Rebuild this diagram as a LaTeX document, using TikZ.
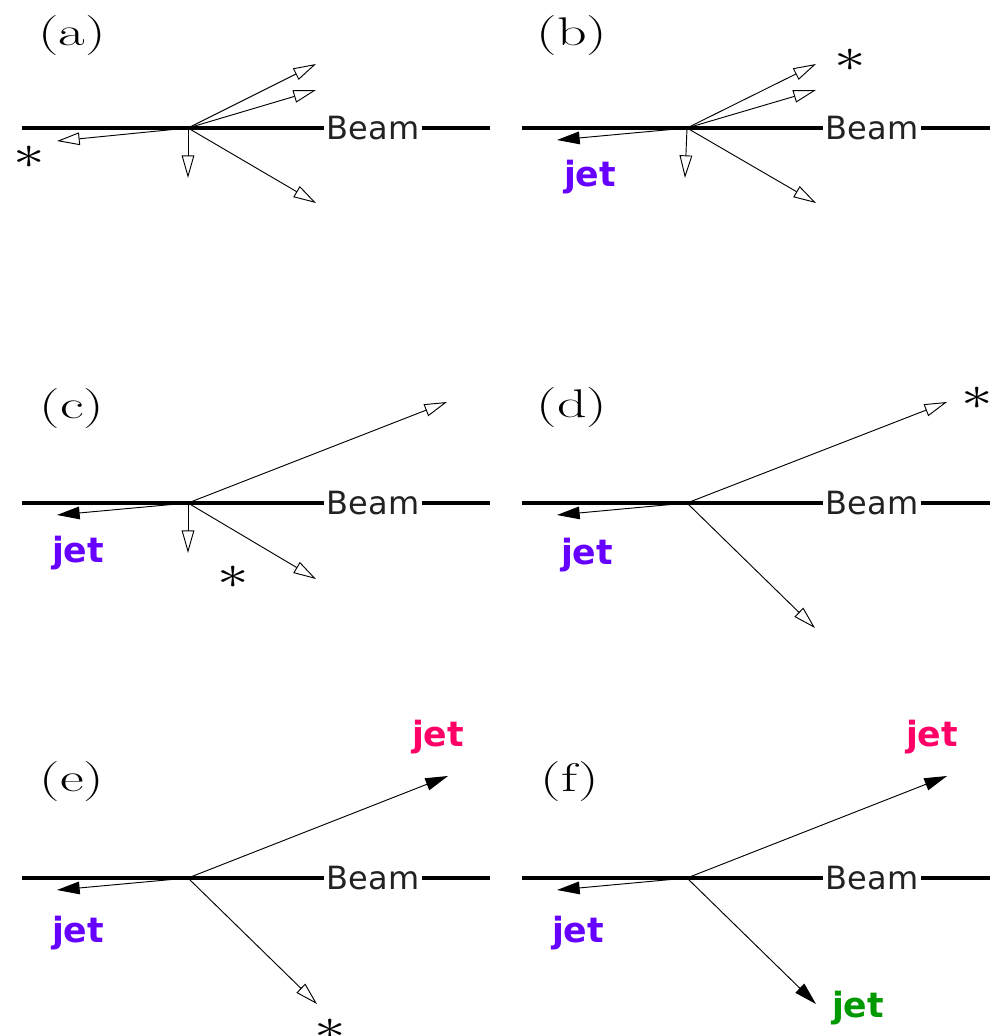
\documentclass[tikz,border=0pt]{standalone}
\usepackage{fontspec}
\newfontfamily\dejavu{DejaVu Sans}
\usetikzlibrary{arrows.meta}
\definecolor{jetpurple}{HTML}{6600FF}
\definecolor{jetred}{HTML}{FF0066}
\definecolor{jetgreen}{HTML}{009900}
\definecolor{beamtext}{HTML}{222222}
\tikzset{
  beamline/.style={line width=2.5pt,black},
  openarr/.style={line width=0.7pt,-{Triangle[open,length=17pt,width=9.5pt,line width=0.7pt]}},
  fullarr/.style={line width=0.7pt,-{Triangle[length=17pt,width=9.5pt]}},
  beamlabel/.style={font={\dejavu\fontsize{24}{28}\selectfont},text=beamtext,inner sep=2pt},
  jetlabel/.style={font={\dejavu\bfseries\fontsize{26}{30}\selectfont},inner sep=0pt},
  panellabel/.style={font={\fontsize{30}{34}\selectfont},inner sep=0pt},
  starlabel/.style={font={\fontsize{24.88}{30}\selectfont},inner sep=0pt}
}
\newcommand{\plabel}[1]{\scalebox{1.45}[1]{(#1)}}
\newcommand{\pstar}{\scalebox{1.9}[1.45]{$\ast$}}
\begin{document}
\begin{tikzpicture}[x=0.75pt,y=-0.75pt]
\useasboundingbox (0,0) rectangle (992,1036);
% ---------- (a)
\begin{scope}[shift={(0,128)}]
  \coordinate (va) at (188,0);
  \coordinate (aL) at (22,0);
  \coordinate (aR) at (490,0);
  \node[beamlabel] (abeam) at (373,0) {Beam};
  \draw[beamline] (aL) -- (abeam.west);
  \draw[beamline] (abeam.east) -- (aR);
  \coordinate (a1) at (316,-64);
  \coordinate (a2) at (316,-38);
  \coordinate (a3) at (57,13);
  \coordinate (a4) at (188,50);
  \coordinate (a5) at (316,75);
  \draw[openarr] (va) -- (a1);
  \draw[openarr] (va) -- (a2);
  \draw[openarr] (va) -- (a3);
  \draw[openarr] (va) -- (a4);
  \draw[openarr] (va) -- (a5);
  \node[starlabel] (astar) at (29,29) {\pstar};
  \node[panellabel] (alab) at (72,-92) {\plabel{a}};
\end{scope}
% ---------- (b)
\begin{scope}[shift={(0,128)}]
  \coordinate (vb) at (687,0);
  \coordinate (bL) at (522,0);
  \coordinate (bR) at (990,0);
  \node[beamlabel] (bbeam) at (872,0) {Beam};
  \draw[beamline] (bL) -- (bbeam.west);
  \draw[beamline] (bbeam.east) -- (bR);
  \coordinate (b1) at (816,-64);
  \coordinate (b2) at (816,-38);
  \coordinate (b3) at (557,12);
  \coordinate (b4) at (685,50);
  \coordinate (b5) at (816,75);
  \draw[openarr] (vb) -- (b1);
  \draw[openarr] (vb) -- (b2);
  \draw[fullarr] (vb) -- (b3);
  \draw[openarr] (vb) -- (b4);
  \draw[openarr] (vb) -- (b5);
  \node[starlabel] (bstar) at (850,-68) {\pstar};
  \node[jetlabel,text=jetpurple] (bjet) at (590,49) {jet};
  \node[panellabel] (blab) at (572,-92) {\plabel{b}};
\end{scope}
% ---------- (c)
\begin{scope}[shift={(0,503)}]
  \coordinate (vc) at (188,0);
  \coordinate (cL) at (22,0);
  \coordinate (cR) at (490,0);
  \node[beamlabel] (cbeam) at (373,0) {Beam};
  \draw[beamline] (cL) -- (cbeam.west);
  \draw[beamline] (cbeam.east) -- (cR);
  \coordinate (c1) at (447,-101);
  \coordinate (c3) at (57,12);
  \coordinate (c4) at (188,50);
  \coordinate (c5) at (316,76);
  \draw[openarr] (vc) -- (c1);
  \draw[fullarr] (vc) -- (c3);
  \draw[openarr] (vc) -- (c4);
  \draw[openarr] (vc) -- (c5);
  \node[starlabel] (cstar) at (233,74) {\pstar};
  \node[jetlabel,text=jetpurple] (cjet) at (78,50) {jet};
  \node[panellabel] (clab) at (72,-94) {\plabel{c}};
\end{scope}
% ---------- (d)
\begin{scope}[shift={(0,503)}]
  \coordinate (vd) at (687,0);
  \coordinate (dL) at (522,0);
  \coordinate (dR) at (990,0);
  \node[beamlabel] (dbeam) at (872,0) {Beam};
  \draw[beamline] (dL) -- (dbeam.west);
  \draw[beamline] (dbeam.east) -- (dR);
  \coordinate (d1) at (947,-101);
  \coordinate (d3) at (557,12);
  \coordinate (d5) at (815,125);
  \draw[openarr] (vd) -- (d1);
  \draw[fullarr] (vd) -- (d3);
  \draw[openarr] (vd) -- (d5);
  \node[starlabel] (dstar) at (977,-105) {\pstar};
  \node[jetlabel,text=jetpurple] (djet) at (587,52) {jet};
  \node[panellabel] (dlab) at (572,-95) {\plabel{d}};
\end{scope}
% ---------- (e)
\begin{scope}[shift={(0,878)}]
  \coordinate (ve) at (188,0);
  \coordinate (eL) at (22,0);
  \coordinate (eR) at (490,0);
  \node[beamlabel] (ebeam) at (373,0) {Beam};
  \draw[beamline] (eL) -- (ebeam.west);
  \draw[beamline] (ebeam.east) -- (eR);
  \coordinate (e1) at (448,-102);
  \coordinate (e3) at (57,12);
  \coordinate (e5) at (317,126);
  \draw[fullarr] (ve) -- (e1);
  \draw[fullarr] (ve) -- (e3);
  \draw[openarr] (ve) -- (e5);
  \node[starlabel] (estar) at (330,152) {\pstar};
  \node[jetlabel,text=jetred] (ejetr) at (438,-141) {jet};
  \node[jetlabel,text=jetpurple] (ejet) at (78,55) {jet};
  \node[panellabel] (elab) at (72,-96) {\plabel{e}};
\end{scope}
% ---------- (f)
\begin{scope}[shift={(0,878)}]
  \coordinate (vf) at (687,0);
  \coordinate (fL) at (522,0);
  \coordinate (fR) at (990,0);
  \node[beamlabel] (fbeam) at (872,0) {Beam};
  \draw[beamline] (fL) -- (fbeam.west);
  \draw[beamline] (fbeam.east) -- (fR);
  \coordinate (f1) at (947,-102);
  \coordinate (f3) at (557,12);
  \coordinate (f5) at (816,126);
  \draw[fullarr] (vf) -- (f1);
  \draw[fullarr] (vf) -- (f3);
  \draw[fullarr] (vf) -- (f5);
  \node[jetlabel,text=jetred] (fjetr) at (932,-141) {jet};
  \node[jetlabel,text=jetgreen] (fjetg) at (858,130) {jet};
  \node[jetlabel,text=jetpurple] (fjet) at (578,55) {jet};
  \node[panellabel] (flab) at (570,-96) {\plabel{f}};
\end{scope}
\end{tikzpicture}
\end{document}
